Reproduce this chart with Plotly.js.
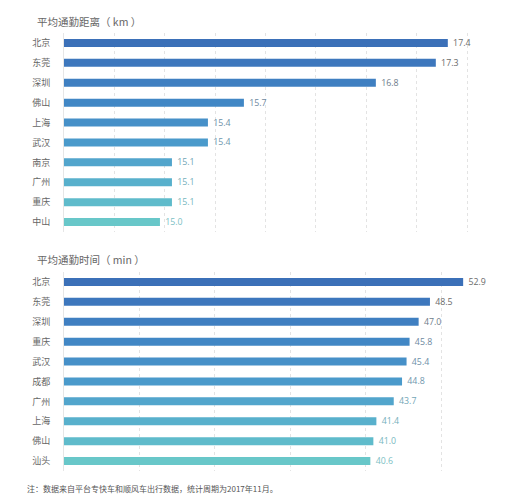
<!DOCTYPE html>
<html>
<head>
<meta charset="utf-8">
<script src="https://cdn.plot.ly/plotly-3.0.1.min.js"></script>
<style>
html,body{margin:0;padding:0;background:#fff;}
#chart{width:516px;height:499px;}
</style>
</head>
<body>
<div id="chart"></div>
<script>
// ---- data ----
const distCities = ['北京','东莞','深圳','佛山','上海','武汉','南京','广州','重庆','中山'];
const distValues = [17.4, 17.3, 16.8, 15.7, 15.4, 15.4, 15.1, 15.1, 15.1, 15.0];
const timeCities = ['北京','东莞','深圳','重庆','武汉','成都','广州','上海','佛山','汕头'];
const timeValues = [52.9, 48.5, 47.0, 45.8, 45.4, 44.8, 43.7, 41.4, 41.0, 40.6];
const distTitle = '平均通勤距离（ km ）';
const timeTitle = '平均通勤时间（ min ）';
const footnote = '注：数据来自平台专快车和顺风车出行数据，统计周期为2017年11月。';

// ---- styles ----
const barColors = ['#3b70b8','#3d77bd','#3f7fc1','#4187c5','#4690c8','#4a9acb','#52a5cc','#58b0cc','#5fbbcb','#68c7c9'];
const textColors = ['#6b6b6b','#6b6b6b','#6e7c8a','#6e88a0','#6e90a8','#7098ae','#72a6b6','#76b0bc','#78b8c0','#7cc0c4'];
const FONT = '"Noto Sans CJK SC", "Noto Sans", sans-serif';
const W = 516, H = 499;
const px = v => v / W, py = v => 1 - v / H;

const common = {
  type: 'bar', orientation: 'h', width: 0.4,
  marker: {color: barColors, line: {width: 0}},
  textposition: 'outside', texttemplate: ' %{x:.1f}', constraintext: 'none',
  textfont: {family: '"Open Sans", sans-serif', size: 8.8, color: textColors},
  cliponaxis: false, hoverinfo: 'skip', showlegend: false
};

const traces = [
  Object.assign({}, common, {x: distValues, y: distCities, xaxis: 'x', yaxis: 'y'}),
  Object.assign({}, common, {x: timeValues, y: timeCities, xaxis: 'x2', yaxis: 'y2'})
];

const yCommon = {
  type: 'category', autorange: 'reversed', showgrid: false, zeroline: false,
  showline: true, linecolor: '#e6e6e6', linewidth: 1,
  ticks: '', ticklabelstandoff: 11,
  tickfont: {family: FONT, size: 9, color: '#666'}
};

const layout = {
  width: W, height: H,
  margin: {l: 0, r: 0, t: 0, b: 0},
  paper_bgcolor: '#fff', plot_bgcolor: '#fff',
  font: {family: FONT},
  bargap: 0.6,
  xaxis: {
    domain: [px(64), px(479)], anchor: 'y',
    range: [14.2, 17.66], tick0: 14.2, dtick: 0.42, tickmode: 'linear',
    showgrid: true, gridcolor: '#e3e3e3', griddash: 'dot', gridwidth: 1,
    zeroline: false, showticklabels: false, ticks: ''
  },
  yaxis: Object.assign({}, yCommon, {domain: [py(232), py(33)], anchor: 'x'}),
  xaxis2: {
    domain: [px(64), px(479)], anchor: 'y2',
    range: [0, 55], tick0: 0, dtick: 10, tickmode: 'linear',
    showgrid: true, gridcolor: '#e3e3e3', griddash: 'dot', gridwidth: 1,
    zeroline: false, showticklabels: false, ticks: ''
  },
  yaxis2: Object.assign({}, yCommon, {domain: [py(471), py(272)], anchor: 'x2'}),
  annotations: [
    {text: distTitle, xref: 'paper', yref: 'paper', x: px(35), y: py(21),
     xanchor: 'left', yanchor: 'middle', showarrow: false,
     font: {family: FONT, size: 10.5, color: '#666'}},
    {text: timeTitle, xref: 'paper', yref: 'paper', x: px(35), y: py(259),
     xanchor: 'left', yanchor: 'middle', showarrow: false,
     font: {family: FONT, size: 10.5, color: '#666'}},
    {text: footnote, xref: 'paper', yref: 'paper', x: px(25), y: py(488),
     xanchor: 'left', yanchor: 'middle', showarrow: false,
     font: {family: FONT, size: 8, color: '#555'}}
  ]
};

Plotly.newPlot('chart', traces, layout, {displayModeBar: false, staticPlot: true});
</script>
</body>
</html>
